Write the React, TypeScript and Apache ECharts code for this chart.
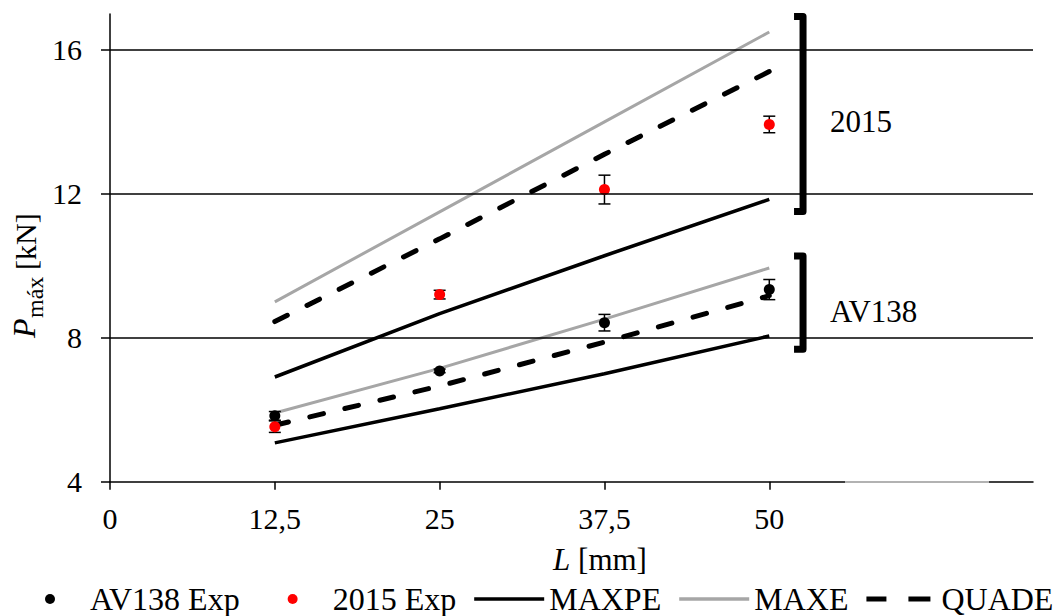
import { useEffect, useRef } from "react";
import * as echarts from "echarts";

// Specimen lengths L [mm]
const lengths = [12.5, 25, 37.5, 50];
const xTicks = [0, 12.5, 25, 37.5, 50];
const yTicks = [4, 8, 12, 16];
const gridLevels = [8, 12, 16];

// Experimental maximum loads [kN] with their scatter (±)
const av138Exp = [5.83, 7.08, 8.42, 9.34];
const av138Err = [0.12, 0.05, 0.23, 0.28];
const exp2015 = [5.53, 9.2, 12.12, 13.93];
const err2015 = [0.16, 0.12, 0.4, 0.23];

// Predicted maximum loads [kN] per criterion
const maxpeAV138 = [5.08, 6.03, 7.0, 8.05];
const maxeAV138 = [5.91, 7.15, 8.52, 9.94];
const quadeAV138 = [5.57, 6.66, 7.88, 9.17];
const maxpe2015 = [6.91, 8.67, 10.28, 11.85];
const maxe2015 = [9.0, 11.5, 14.0, 16.5];
const quade2015 = [8.45, 10.75, 13.1, 15.4];

// Material groups marked by brackets on the right
const groupNames = ["2015", "AV138"];
const groupLow = [11.51, 7.68];
const groupHigh = [16.93, 10.27];
const groupLabelAt = [14.02, 8.72];
const bracketL = 52.56;

const FONT = "'Liberation Serif', 'Times New Roman', serif";
const GRAY = "#a6a6a6";

// Legend icons drawn inside a 70×10 box (the leading moves pin the box size)
const ICON_DOT = "path://M0,0M70,10M40,5A5,5,0,1,1,30,5A5,5,0,1,1,40,5Z";
const ICON_SOLID = "path://M0,0M70,10M0,3.2H70V6.8H0Z";
const ICON_DASH = "path://M0,0M70,10M0,2.5H20V7.5H0ZM42,2.5H64V7.5H42Z";

const pairs = (ys: number[]) => lengths.map((x, i) => [x, ys[i]]);
const errRows = (ys: number[], es: number[]) =>
  lengths.map((x, i) => [x, ys[i] - es[i], ys[i] + es[i]]);

const lineSeries = (name: string, ys: number[], color: string, width: number, dashed: boolean) => ({
  type: "line",
  name,
  data: pairs(ys),
  symbol: "none",
  z: 2,
  lineStyle: {
    color,
    width,
    type: dashed ? [14, 22] : "solid",
    cap: dashed ? "round" : "butt",
  },
  itemStyle: { color },
});

const errorBarSeries = (ys: number[], es: number[]) => ({
  type: "custom",
  name: "err",
  z: 3,
  data: errRows(ys, es),
  encode: { x: 0, y: [1, 2] },
  renderItem: (_params: any, api: any) => {
    const lo = api.coord([api.value(0), api.value(1)]);
    const hi = api.coord([api.value(0), api.value(2)]);
    const w = 6;
    const style = { stroke: "#000", lineWidth: 1.5 };
    return {
      type: "group",
      children: [
        { type: "line", shape: { x1: lo[0], y1: lo[1], x2: hi[0], y2: hi[1] }, style },
        { type: "line", shape: { x1: lo[0] - w, y1: lo[1], x2: lo[0] + w, y2: lo[1] }, style },
        { type: "line", shape: { x1: hi[0] - w, y1: hi[1], x2: hi[0] + w, y2: hi[1] }, style },
      ],
    };
  },
});

export default function App() {
  const ref = useRef<HTMLDivElement>(null);

  useEffect(() => {
    if (!ref.current) return;
    const chart = echarts.init(ref.current, null, { renderer: "svg" });

    chart.setOption({
      animation: false,
      backgroundColor: "#fff",
      grid: { left: 110, right: 26, top: 14, bottom: 134.3, containLabel: false },
      xAxis: {
        type: "value",
        min: 0,
        max: 70,
        axisLine: { show: true, onZero: false, lineStyle: { color: "#000", width: 1.5 } },
        axisTick: { show: true, customValues: xTicks, length: 8, lineStyle: { color: "#000", width: 1.5 } },
        axisLabel: {
          customValues: xTicks,
          formatter: (v: number) => String(v).replace(".", ","),
          fontFamily: FONT,
          fontSize: 30,
          color: "#000",
          margin: 22,
        },
        splitLine: { show: false },
      },
      yAxis: {
        type: "value",
        min: 4,
        max: 17,
        axisLine: { show: true, onZero: false, lineStyle: { color: "#000", width: 1.5 } },
        axisTick: { show: true, customValues: yTicks, length: 9, lineStyle: { color: "#000", width: 1.5 } },
        axisLabel: {
          customValues: yTicks,
          fontFamily: FONT,
          fontSize: 30,
          color: "#000",
          margin: 28,
        },
        splitLine: { show: false },
      },
      legend: {
        data: [
          { name: "AV138 Exp", icon: ICON_DOT },
          { name: "2015 Exp", icon: ICON_DOT },
          { name: "MAXPE", icon: ICON_SOLID },
          { name: "MAXE", icon: ICON_SOLID },
          { name: "QUADE", icon: ICON_DASH },
        ],
        left: 15,
        top: 583,
        padding: 0,
        itemGap: 18,
        itemWidth: 70,
        itemHeight: 10,
        selectedMode: false,
        textStyle: { fontFamily: FONT, fontSize: 32, lineHeight: 32, color: "#000" },
      },
      graphic: [
        {
          type: "text",
          x: 24,
          y: 338,
          rotation: Math.PI / 2,
          style: { text: "P", fontFamily: FONT, fontStyle: "italic", fontSize: 32, fill: "#000", align: "left", verticalAlign: "middle" },
        },
        {
          type: "text",
          x: 35,
          y: 318,
          rotation: Math.PI / 2,
          style: { text: "máx", fontFamily: FONT, fontSize: 24, fill: "#000", align: "left", verticalAlign: "middle" },
        },
        {
          type: "text",
          x: 25,
          y: 270,
          rotation: Math.PI / 2,
          style: { text: "[kN]", fontFamily: FONT, fontSize: 30, fill: "#000", align: "left", verticalAlign: "middle" },
        },
        {
          type: "text",
          x: 600,
          y: 559,
          style: {
            text: "{i|L} [mm]",
            fontFamily: FONT,
            fontSize: 31,
            fill: "#000",
            align: "center",
            verticalAlign: "middle",
            rich: { i: { fontFamily: FONT, fontSize: 31, fontStyle: "italic", fill: "#000" } },
          },
        },
        {
          // faded stretch of the baseline on the right
          type: "rect",
          z: 100,
          shape: { x: 845, y: 479.5, width: 144, height: 4.5 },
          style: { fill: "rgba(255,255,255,0.6)" },
          silent: true,
        },
      ],
      series: [
        {
          type: "line",
          name: "gridlines",
          data: [],
          z: 1,
          silent: true,
          markLine: {
            silent: true,
            symbol: "none",
            label: { show: false },
            lineStyle: { color: "#000", width: 1.5, type: "solid" },
            data: gridLevels.map((v) => ({ yAxis: v })),
          },
        },
        lineSeries("MAXPE", maxpeAV138, "#000", 3.5, false),
        lineSeries("MAXE", maxeAV138, GRAY, 3, false),
        lineSeries("QUADE", quadeAV138, "#000", 5, true),
        lineSeries("MAXPE", maxpe2015, "#000", 3.5, false),
        lineSeries("MAXE", maxe2015, GRAY, 3, false),
        lineSeries("QUADE", quade2015, "#000", 5, true),
        errorBarSeries(av138Exp, av138Err),
        errorBarSeries(exp2015, err2015),
        {
          type: "scatter",
          name: "AV138 Exp",
          data: pairs(av138Exp),
          symbol: "circle",
          symbolSize: 11,
          z: 4,
          itemStyle: { color: "#000", opacity: 1 },
        },
        {
          type: "scatter",
          name: "2015 Exp",
          data: pairs(exp2015),
          symbol: "circle",
          symbolSize: 11,
          z: 4,
          itemStyle: { color: "#ff0000", opacity: 1 },
        },
        {
          type: "custom",
          name: "groups",
          z: 5,
          clip: false,
          data: groupNames.map((_, i) => [bracketL, groupLow[i], groupHigh[i], groupLabelAt[i]]),
          encode: { x: 0, y: [1, 2] },
          renderItem: (params: any, api: any) => {
            const x = api.value(0);
            const top = api.coord([x, api.value(2)]);
            const bot = api.coord([x, api.value(1)]);
            const lab = api.coord([x, api.value(3)]);
            return {
              type: "group",
              children: [
                {
                  type: "polyline",
                  shape: {
                    points: [
                      [top[0] - 9, top[1]],
                      [top[0], top[1]],
                      [bot[0], bot[1]],
                      [bot[0] - 9, bot[1]],
                    ],
                  },
                  style: { stroke: "#000", lineWidth: 7, fill: "none", lineJoin: "round" },
                },
                {
                  type: "text",
                  x: top[0] + 27,
                  y: lab[1],
                  style: {
                    text: groupNames[params.dataIndex],
                    fontFamily: FONT,
                    fontSize: 31,
                    fill: "#000",
                    align: "left",
                    verticalAlign: "middle",
                  },
                },
              ],
            };
          },
        },
      ],
    });

    return () => chart.dispose();
  }, []);

  return (
    <div
      ref={ref}
      style={{ position: "fixed", left: 0, top: 0, width: 1059, height: 616, background: "#fff" }}
    />
  );
}
